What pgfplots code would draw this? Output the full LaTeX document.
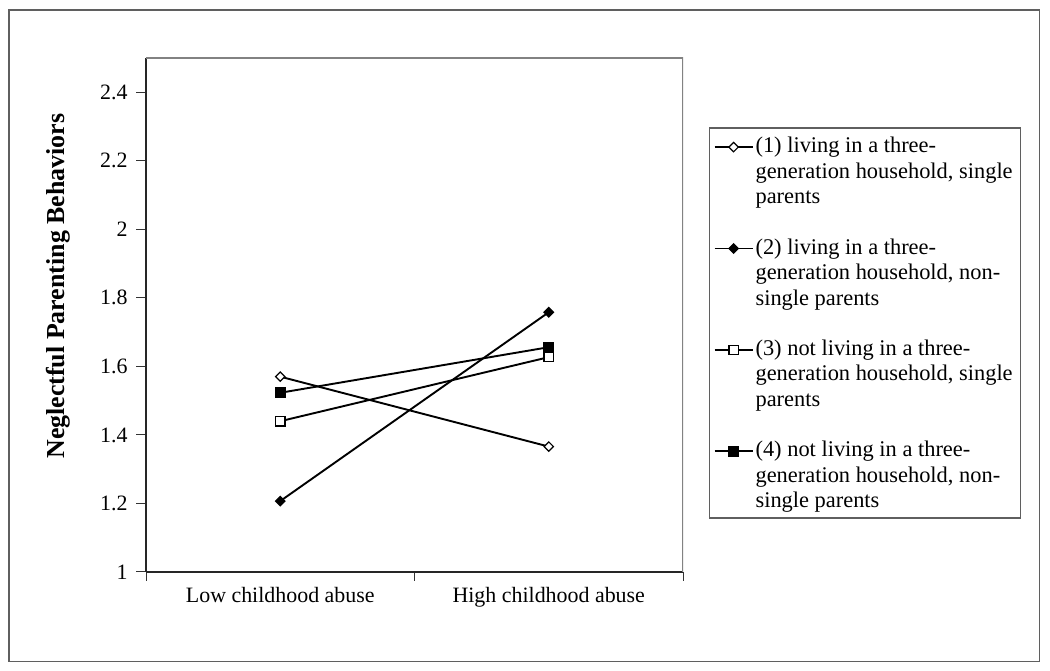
\documentclass[border=0pt]{standalone}
\usepackage{fontspec}
\setmainfont{Liberation Serif}
\usepackage{pgfplots}
\pgfplotsset{compat=1.18}
\definecolor{framegray}{RGB}{95,95,95}
\definecolor{boxgray}{RGB}{130,130,130}
\begin{document}
\fontsize{22}{25.5}\selectfont
\begin{tikzpicture}[x=1bp,y=1bp]
\useasboundingbox (0,0) rectangle (1050,671);
\draw[line width=1.5bp, framegray] (9,9.5) rectangle (1039.5,661);
\begin{axis}[
  at={(146bp,99bp)}, anchor=south west,
  scale only axis, width=537bp, height=514bp,
  xmin=-0.5, xmax=1.5, ymin=1, ymax=2.5,
  ytick={1,1.2,1.4,1.6,1.8,2,2.2,2.4},
  xtick={0,1},
  xticklabels={Low childhood abuse, High childhood abuse},
  minor xtick={-0.5,0.5,1.5},
  major x tick style={draw=none},
  minor x tick style={line width=1bp, black!80},
  major y tick style={line width=1bp, black!80},
  major tick length=10bp, minor tick length=9bp,
  tick align=outside, xtick pos=bottom, ytick pos=left,
  axis x line*=bottom, axis y line*=left,
  axis line style={-, line width=1.3bp, black!85},
  /pgf/number format/assume math mode=true,
  tick label style={font=\fontsize{22}{25.5}\selectfont},
  yticklabel style={xshift=-1bp},
  xticklabel style={yshift=2bp},
  ylabel={\textbf{Neglectful Parenting Behaviors}},
  every axis y label/.style={at={(axis description cs:-0.164,0.556)}, rotate=90, anchor=center, font=\fontsize{26}{28}\selectfont},
  legend style={at={(axis description cs:1.0484,0.865)}, anchor=north west,
    draw=framegray, line width=1.3bp, inner xsep=4bp, inner ysep=7bp,
    row sep=29.5bp,
    cells={anchor=base west},
    nodes={inner xsep=2bp, inner ysep=0bp},
    font=\fontsize{22.5}{25.5}\selectfont},
  legend image code/.code={\draw[mark repeat=2,mark phase=2,yshift=56.5bp] plot coordinates {(0bp,0bp) (19bp,0bp) (38bp,0bp)};},
]
\draw[boxgray, line width=1.3bp] (rel axis cs:0,1) -- (rel axis cs:1,1) -- (rel axis cs:1,0);
\addplot[black, line width=1.9bp, mark=square*, mark size=3.3bp, mark options={rotate=45, fill=white, line width=1.2bp, solid}]
  coordinates {(0,1.57) (1,1.366)};
\addlegendentry{\begin{tabular}[b]{@{}l@{\hspace{2bp}}}(1) living in a three-\\generation household, single\\parents\end{tabular}}
\addplot[black, line width=1.9bp, mark=square*, mark size=3.3bp, mark options={rotate=45, fill=black, line width=1.2bp, solid}]
  coordinates {(0,1.207) (1,1.758)};
\addlegendentry{\begin{tabular}[b]{@{}l@{\hspace{2bp}}}(2) living in a three-\\generation household, non-\\single parents\end{tabular}}
\addplot[black, line width=1.9bp, mark=square*, mark size=4.7bp, mark options={fill=white, line width=1.2bp, solid}]
  coordinates {(0,1.44) (1,1.627)};
\addlegendentry{\begin{tabular}[b]{@{}l@{\hspace{2bp}}}(3) not living in a three-\\generation household, single\\parents\end{tabular}}
\addplot[black, line width=1.9bp, mark=square*, mark size=4.9bp, mark options={fill=black, line width=1.2bp, solid}]
  coordinates {(0,1.523) (1,1.656)};
\addlegendentry{\begin{tabular}[b]{@{}l@{\hspace{2bp}}}(4) not living in a three-\\generation household, non-\\single parents\end{tabular}}
\end{axis}
\end{tikzpicture}
\end{document}
